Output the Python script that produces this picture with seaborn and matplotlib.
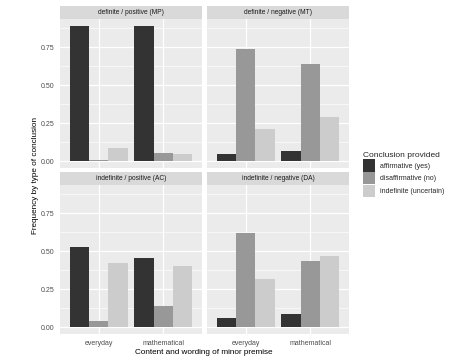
import pandas as pd
import seaborn as sns
import matplotlib.pyplot as plt
from matplotlib.patches import Rectangle, Patch
from matplotlib.ticker import MultipleLocator

panels = ["definite / positive (MP)", "definite / negative (MT)",
          "indefinite / positive (AC)", "indefinite / negative (DA)"]
contents = ["everyday", "mathematical"]
conclusions = ["affirmative (yes)", "disaffirmative (no)", "indefinite (uncertain)"]

# per panel: [everyday, mathematical]
affirmative = [[0.885, 0.885], [0.05, 0.065], [0.53, 0.453], [0.06, 0.084]]
disaffirmative = [[0.01, 0.055], [0.735, 0.637], [0.04, 0.14], [0.62, 0.437]]
indefinite = [[0.09, 0.05], [0.21, 0.29], [0.42, 0.40], [0.315, 0.47]]

colors = ["#333333", "#989898", "#CCCCCC"]

rows = []
for p, panel in enumerate(panels):
    for c, content in enumerate(contents):
        for concl, vals in zip(conclusions, [affirmative, disaffirmative, indefinite]):
            rows.append({"panel": panel, "content": content,
                         "conclusion": concl, "freq": vals[p][c]})
df = pd.DataFrame(rows)

sns.set_style("white")
plt.rcParams["font.family"] = ["Liberation Sans", "DejaVu Sans"]

W, H = 474, 363
fig = plt.figure(figsize=(W / 100, H / 100), dpi=100)

# panel boxes in pixels: (left, top, right, bottom)
boxes = [(60, 19, 202, 168), (207, 19, 349, 168),
         (60, 185, 202, 334), (207, 185, 349, 334)]
strip_h = 13

for i, (panel, (x0, y0, x1, y1)) in enumerate(zip(panels, boxes)):
    ax = fig.add_axes([x0 / W, 1 - y1 / H, (x1 - x0) / W, (y1 - y0) / H])
    sub = df[df["panel"] == panel]
    sns.barplot(data=sub, x="content", y="freq", hue="conclusion",
                order=contents, hue_order=conclusions, palette=colors,
                width=0.9, saturation=1, linewidth=0, legend=False, ax=ax)
    ax.set_facecolor("#EBEBEB")
    for s in ax.spines.values():
        s.set_visible(False)
    ax.set_xlim(-0.6, 1.6)
    ax.set_ylim(-0.0445, 0.934)
    ax.yaxis.set_major_locator(MultipleLocator(0.25))
    ax.yaxis.set_minor_locator(MultipleLocator(0.125))
    ax.set_axisbelow(True)
    ax.grid(True, which="major", color="white", linewidth=0.9)
    ax.grid(True, which="minor", axis="y", color="white", linewidth=0.45)
    ax.tick_params(axis="both", which="major", length=2.5, width=0.5,
                   color="#333333", labelcolor="#4D4D4D", labelsize=5, pad=1.5)
    ax.tick_params(axis="y", which="minor", length=0)
    ax.yaxis.set_major_formatter(plt.FuncFormatter(lambda v, _: f"{v:.2f}"))
    ax.set_xlabel("")
    ax.set_ylabel("")
    if i % 2 == 1:
        ax.tick_params(axis="y", which="major", length=0, labelleft=False)
    if i < 2:
        ax.tick_params(axis="x", length=0, labelbottom=False)

    fig.patches.append(Rectangle((x0 / W, 1 - y0 / H), (x1 - x0) / W, strip_h / H,
                                 transform=fig.transFigure, facecolor="#D9D9D9",
                                 edgecolor="none"))
    fig.text((x0 + x1) / 2 / W, 1 - (y0 - strip_h / 2) / H, panel,
             ha="center", va="center", fontsize=4.8, color="#1A1A1A")

fig.text(204 / W, 1 - 352 / H, "Content and wording of minor premise",
         ha="center", va="center", fontsize=5.9, color="black")
fig.text(35.5 / W, 1 - 176 / H, "Frequency by type of conclusion",
         ha="center", va="center", rotation=90, fontsize=5.9, color="black")

handles = [Patch(facecolor=c, edgecolor="none") for c in colors]
fig.legend(handles, conclusions, title="Conclusion provided",
           loc="upper left", bbox_to_anchor=(360 / W, 1 - 149 / H),
           frameon=False, fontsize=5, title_fontsize=6,
           handlelength=1.8, handleheight=2.3, handletextpad=0.7,
           labelspacing=0.1, borderaxespad=0)
leg = fig.legends[0]
leg._legend_box.align = "left"

fig.savefig("out.png", dpi=100)
